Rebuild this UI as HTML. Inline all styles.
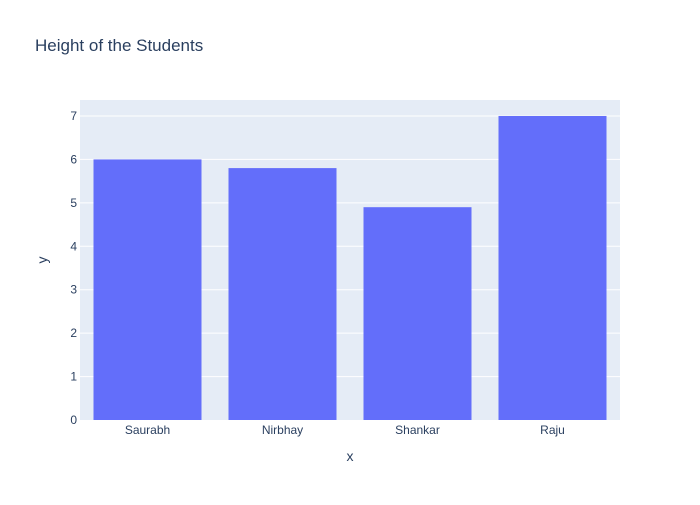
<!DOCTYPE html>
<html><head><meta charset="utf-8"><style>
body{margin:0;background:#fff;}
svg text{font-family:"Liberation Sans",sans-serif;fill:#2a3f5f;}
</style></head><body>
<svg id="c" width="700" height="500">
<rect x="0" y="0" width="700" height="500" fill="#fff"/>
<rect x="80" y="100" width="540" height="320" fill="#e5ecf6"/>
<g id="grid"></g><g id="bars"></g><g id="xt"></g><g id="yt"></g>
<text x="35" y="51" font-size="17">Height of the Students</text>
<text x="350" y="461" font-size="14" text-anchor="middle">x</text>
<text x="47" y="260" font-size="14" text-anchor="middle" transform="rotate(-90 47 260)">y</text>
</svg>
<script>
const categories=["Saurabh","Nirbhay","Shankar","Raju"];
const values=[6,5.8,4.9,7];
const yTicks=[0,1,2,3,4,5,6,7];
const X0=80,W=540,Y0=420,H=320,YMAX=7.368;
const ns="http://www.w3.org/2000/svg";
function y(v){return Y0-v/YMAX*H;}
const band=W/categories.length;
function xc(i){return X0+band*(i+0.5);}
function mk(t,a,p){const e=document.createElementNS(ns,t);for(const k in a)e.setAttribute(k,a[k]);document.getElementById(p).appendChild(e);return e;}
yTicks.forEach(t=>{
 if(t>0){const l=mk('line',{x1:X0,x2:X0+W,y1:y(t),y2:y(t),stroke:'#fff','stroke-width':1},'grid');
 
 }
 const tx=mk('text',{x:X0-3,y:y(t)+4,'font-size':12,'text-anchor':'end'},'yt');tx.textContent=t;
 
 
});
categories.forEach((c,i)=>{
 const bw=band*0.8;
 const r=mk('rect',{x:xc(i)-bw/2,y:y(values[i]),width:bw,height:Y0-y(values[i]),fill:'#636efa'},'bars');
 
 
 const tx=mk('text',{x:xc(i),y:Y0+14,'font-size':12,'text-anchor':'middle'},'xt');tx.textContent=c;
 
 
});
</script>
</body></html>
